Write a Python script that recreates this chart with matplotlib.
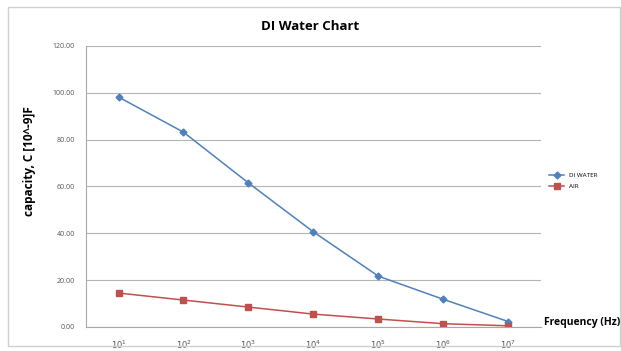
import matplotlib.pyplot as plt
import matplotlib.patches as patches

freq_labels = [r'$10^1$', r'$10^2$', r'$10^3$', r'$10^4$', r'$10^5$', r'$10^6$', r'$10^7$']
di_water = [98.2, 83.2, 61.5, 40.6, 21.7, 11.8, 2.3]
air = [14.5, 11.5, 8.5, 5.5, 3.4, 1.4, 0.5]
yticks = [0, 20, 40, 60, 80, 100, 120]

plt.rcParams['font.family'] = ['Open Sans', 'DejaVu Sans']

fig = plt.figure(figsize=(6.21, 3.51), dpi=100)
ax = fig.add_axes([0.1385, 0.0684, 0.7325, 0.8006])

# outer chart frame like the excel chart box
fig.patches.append(patches.Rectangle((0.013, 0.015), 0.985, 0.965, transform=fig.transFigure,
                                     fill=False, edgecolor='#d0d0d0', linewidth=1.0))

x = list(range(len(freq_labels)))
ax.plot(x, di_water, color='#4f81bd', marker='D', markersize=3.5, linewidth=1.1, label='DI WATER')
ax.plot(x, air, color='#c0504d', marker='s', markersize=4.5, linewidth=1.1, label='AIR')

ax.set_xlim(-0.5, 6.5)
ax.set_ylim(0, 120)
ax.set_yticks(yticks)
ax.set_yticklabels(['%.2f' % v for v in yticks], fontsize=5, color='#555555')
ax.set_xticks(x)
ax.set_xticklabels(freq_labels, fontsize=6, color='#555555', family='DejaVu Serif')
ax.tick_params(axis='both', length=0, pad=8)
ax.grid(axis='y', color='#b4b4b4', linewidth=0.8)
ax.set_axisbelow(True)
for s in ['top', 'right']:
    ax.spines[s].set_visible(False)
for s in ['left', 'bottom']:
    ax.spines[s].set_color('#a8a8a8')
    ax.spines[s].set_linewidth(0.8)

fig.text(0.5, 0.925, 'DI Water Chart', ha='center', va='center', fontsize=9.5, fontweight='bold')
fig.text(0.047, 0.54, 'capacity, C [10^-9]F', ha='center', va='center', rotation=90,
         fontsize=8.5, fontweight='bold')
fig.text(0.998, 0.082, 'Frequency (Hz)', ha='right', va='center', fontsize=7.5, fontweight='bold')

ax.legend(loc='center left', bbox_to_anchor=(1.005, 0.52), frameon=False, fontsize=4.5,
          handlelength=2.5, labelspacing=0.8)

fig.savefig('out.png', dpi=100)
